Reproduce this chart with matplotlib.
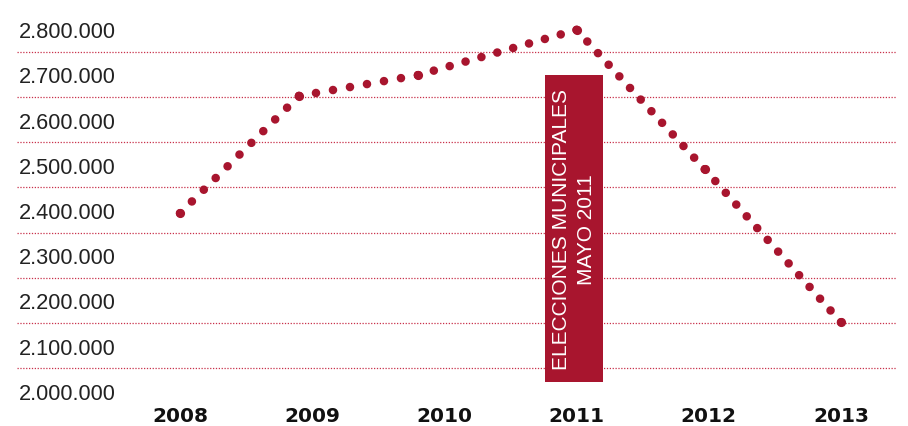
import matplotlib
matplotlib.use("Agg")
import matplotlib.pyplot as plt
from matplotlib import font_manager as fm
import numpy as np

# ---- data ----
x_dates = [2008.0, 2008.9, 2009.8, 2011.0, 2011.97, 2013.0]
values = [2393000, 2652000, 2698000, 2798000, 2490000, 2152000]
year_ticks = [2008, 2009, 2010, 2011, 2012, 2013]
y_ticks = [2000000, 2100000, 2200000, 2300000, 2400000, 2500000, 2600000, 2700000, 2800000]
grid_values = [2050000, 2150000, 2250000, 2350000, 2450000, 2550000, 2650000, 2750000]
band_start, band_end = 2010.76, 2011.20
band_low, band_high = 2020000, 2698000
band_lines = ["ELECCIONES MUNICIPALES", "MAYO 2011"]

RED = "#A8152E"

names = {f.name for f in fm.fontManager.ttflist}
narrow = "Liberation Sans Narrow" if "Liberation Sans Narrow" in names else "Liberation Sans"

W, H = 908, 427
fig = plt.figure(figsize=(W / 100, H / 100), dpi=100)
left_px, right_px, top_px, bot_px = 17, 897, 0, 395
ax = fig.add_axes([left_px / W, 1 - bot_px / H, (right_px - left_px) / W, (bot_px - top_px) / H])

px_per_year = 132.2
px_per_unit = 45.25 / 100000
ax.set_xlim(2008 - (180 - left_px) / px_per_year, 2008 + (right_px - 180) / px_per_year)
ax.set_ylim(2800000 - (bot_px - 30) / px_per_unit, 2800000 + (30 - top_px) / px_per_unit)

for s in ax.spines.values():
    s.set_visible(False)

# grid lines between labels
for g in grid_values:
    ax.axhline(g, color="#C8304A", lw=0.9, ls=(0, (1, 1.3)), zorder=1)

# band
ax.bar([(band_start + band_end) / 2], [band_high - band_low], bottom=[band_low],
       width=band_end - band_start, color=RED, zorder=2)
cx = (band_start + band_end) / 2
cy = (band_low + band_high) / 2
ax.text(cx, cy, "\n".join(band_lines), rotation=90, ha="center", va="center",
        color="white", fontsize=15, family=narrow, linespacing=1.38, zorder=3,
        multialignment="center")

# dotted line: each segment drawn so that dots land on both vertices
lw_px = 8.6
lw_pt = lw_px * 72 / 100
target_gap_px = 16.2
pts = ax.transData.transform(np.column_stack([x_dates, values]))
for i in range(len(x_dates) - 1):
    L = float(np.hypot(*(pts[i + 1] - pts[i])))
    n = max(1, int(round(L / target_gap_px)))
    gap = L / n / lw_px
    ax.plot(x_dates[i:i + 2], values[i:i + 2], color=RED, lw=lw_pt,
            ls=(0, (0.0001, gap - 0.0001)), dash_capstyle="round", zorder=4)
ax.plot(x_dates, values, ls="none", marker="o", ms=6.6, mew=0, color=RED, zorder=5)

# ticks
ax.set_xticks(year_ticks)
ax.set_xticklabels([str(y) for y in year_ticks], fontsize=14.5,
                   fontweight="bold", family="DejaVu Sans", color="#111111")
ax.tick_params(axis="x", length=0, pad=9)

ax.set_yticks(y_ticks)
ax.set_yticklabels([f"{v:,}".replace(",", ".") for v in y_ticks], fontsize=15.7,
                   family="Liberation Sans", color="#222222")
ax.tick_params(axis="y", length=0, pad=-1)
for lab in ax.get_yticklabels():
    lab.set_horizontalalignment("left")

fig.savefig("out.png", dpi=100)
